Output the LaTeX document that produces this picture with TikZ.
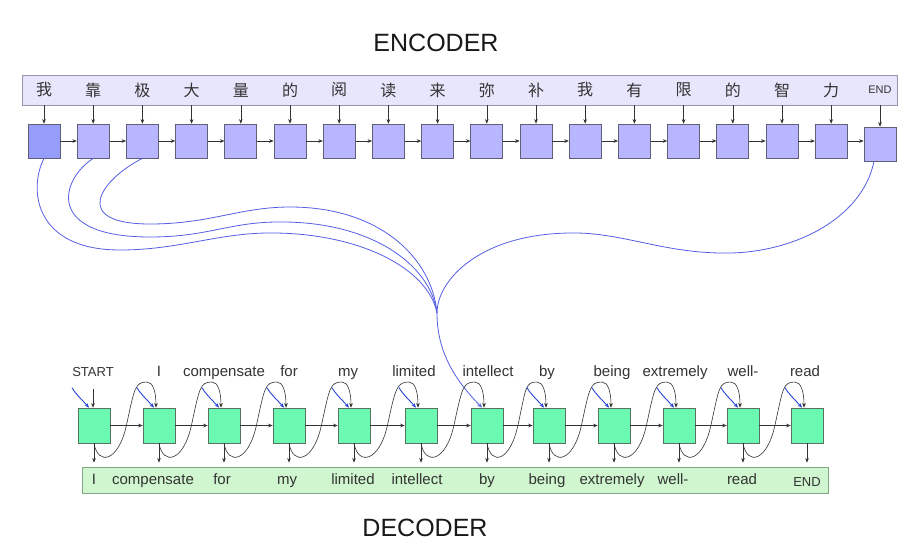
\documentclass[tikz,border=0pt]{standalone}
\usepackage{fontspec}
\setmainfont{Liberation Sans}
\newfontfamily\cjk{Noto Sans CJK SC}
\usetikzlibrary{arrows.meta,shadows,calc}
\definecolor{encbarfill}{RGB}{232,230,252}
\definecolor{encbardraw}{RGB}{150,148,170}
\definecolor{encfill}{RGB}{184,182,255}
\definecolor{encfirst}{RGB}{150,156,250}
\definecolor{encdraw}{RGB}{95,95,120}
\definecolor{decfill}{RGB}{108,250,178}
\definecolor{decdraw}{RGB}{85,115,95}
\definecolor{decbarfill}{RGB}{208,246,208}
\definecolor{decbardraw}{RGB}{130,165,130}
\definecolor{attblue}{RGB}{85,95,228}
\definecolor{shortblue}{RGB}{40,70,220}
\begin{document}
\begin{tikzpicture}[x=1pt,y=-1pt,
  encbar/.style={draw=encbardraw,fill=encbarfill,line width=0.8pt,minimum width=875pt,minimum height=30pt,inner sep=0pt},
  decbar/.style={draw=decbardraw,fill=decbarfill,line width=0.8pt,minimum width=746pt,minimum height=26pt,inner sep=0pt},
  encbox/.style={draw=encdraw,fill=encfill,line width=0.7pt,minimum width=32pt,minimum height=34pt,inner sep=0pt,
     drop shadow={shadow xshift=0.4pt,shadow yshift=-1.3pt,fill=black!55,opacity=0.8}},
  decbox/.style={draw=decdraw,fill=decfill,line width=0.7pt,minimum width=32pt,minimum height=35pt,inner sep=0pt},
  conn/.style={draw=black!80,line width=0.6pt,-{Stealth[length=4.5pt,width=3.6pt]}},
  att/.style={draw=attblue,line width=0.8pt},
  sblue/.style={draw=shortblue,line width=0.9pt,-{Stealth[length=4.5pt,width=3.6pt]}},
  cjklbl/.style={font=\cjk\fontsize{16}{18}\selectfont,text=black!80,inner sep=0pt},
  wordlbl/.style={font=\fontsize{15}{18}\selectfont,text=black!80,inner sep=0pt},
  capslbl/.style={font=\fontsize{13}{16}\selectfont,text=black!80,inner sep=0pt},
  title/.style={font=\fontsize{25}{30}\selectfont,text=black!90,inner sep=0pt}
]
\fill[white] (0,0) rectangle (920,555);
\path[use as bounding box] (0,0) rectangle (920,555);

% titles
\node[title] (enctitle) at (436,43) {ENCODER};
\node[title] (dectitle) at (425,528) {DECODER};

% encoder bar
\node[encbar] (ebar) at (459.5,90) {};

% encoder boxes
\node[encbox,fill=encfirst] (e1) at (44,141) {};
\node[cjklbl] (l1) at (44,90) {我};
\foreach \c [count=\i from 2] in {靠,极,大,量,的,阅,读,来,弥,补,我,有,限,的,智,力}{
  \pgfmathsetmacro\xx{44+49.2*(\i-1)}
  \node[encbox] (e\i) at (\xx,141) {};
  \node[cjklbl] (l\i) at (\xx,90) {\c};
}
\node[encbox] (e18) at (880,144) {};
\node[capslbl,font=\fontsize{11}{13}\selectfont] (l18) at (880,90) {END};
\foreach \i in {1,...,18}{
  \draw[conn] (ebar.south -| e\i.north) -- (e\i.north);
}
\foreach \i in {1,...,17}{
  \pgfmathtruncatemacro\j{\i+1}
  \draw[conn] (e\i.east) -- (e\i.east -| e\j.west);
}

% decoder boxes and labels
\foreach \xx/\w [count=\i] in {94/START,159/I,224/compensate,289/for,354/my,421/limited,487/intellect,549/by,614/being,679/extremely,743/well-,807/read}{
  \node[decbox] (d\i) at (\xx,425.5) {};
}
\node[capslbl] (t1) at (93,372) {START};
\foreach \xx/\w [count=\i from 2] in {159/I,224/compensate,289/for,348/my,414/limited,488/intellect,547/by,612/being,675/extremely,743/well-,805/read}{
  \node[wordlbl] (t\i) at (\xx,373) {\vphantom{lp}\w};
}

% attention curves
\coordinate (conv) at (437,313);
\draw[att] (e1.south) .. controls (28,190) and (35,250) .. (120,250)
   .. controls (180,250) and (220,232) .. (275,233)
   .. controls (360,234) and (428,268) .. (conv);
\draw[att] (e2.south) .. controls (60,180) and (45,237) .. (150,237)
   .. controls (210,237) and (230,221) .. (285,222)
   .. controls (370,223) and (430,263) .. (conv);
\draw[att] (e3.south) .. controls (100,180) and (70,224) .. (150,224)
   .. controls (210,224) and (240,207) .. (290,207)
   .. controls (380,207) and (432,258) .. (conv);
\draw[att,-{Stealth[length=5pt,width=4pt]}] ([xshift=-6pt]e18.south) .. controls (862,220) and (790,255) .. (720,253)
   .. controls (660,252) and (620,232) .. (570,233)
   .. controls (480,234) and (437,280) .. (conv)
   .. controls (437,352) and (455,380) .. ([xshift=-5pt]d7.north);

% decoder bar
\node[decbar] (dbar) at (455,480) {};
\foreach \xx/\w in {94/I,153/compensate,222/for,287/my,353/limited,417/intellect,487/by,547/being,612/extremely,673/well-,742/read}{
  \node[wordlbl] at (\xx,481) {\vphantom{lp}\w};
}
\node[capslbl] (bend) at (807,482) {END};

% horizontal decoder arrows
\foreach \i in {1,...,11}{
  \pgfmathtruncatemacro\j{\i+1}
  \draw[conn] (d\i.east) -- (d\j.west);
}
% output arrows
\foreach \i in {1,...,12}{
  \draw[conn,shorten >=4pt] (d\i.south) -- (d\i.south |- dbar.north);
}
% start input
\coordinate (sin) at (93,389);
\draw[conn] (sin) -- (sin |- d1.north);
% feedback curls
\foreach \xa/\xb/\i/\j in {94/159/1/2,159/224/2/3,224/289/3/4,289/354/4/5,354/421/5/6,421/487/6/7,487/549/7/8,549/614/8/9,614/679/9/10,679/743/10/11,743/807/11/12}{
  \pgfmathsetmacro\xm{(\xa+\xb)/2}
  \draw[conn] (d\i.south) .. controls ({\xa+4},466) and ({\xm-8},462) .. (\xm,425)
     .. controls ({\xm+8},388) and ({\xb-24},382) .. ({\xb-12},382)
     .. controls ({\xb-6},382) and ({\xb-3},392) .. ([xshift=-3pt]d\j.north);
}
% short blue arrows
\foreach \i in {1,2,3,4,5,6,8,9,10,11,12}{
  \coordinate (bs\i) at ($(d\i.north)+(-22,-20)$);
  \draw[sblue] (bs\i) .. controls ($(bs\i)+(4,7)$) and ($(d\i.north)+(-12,-8)$) .. ([xshift=-5pt]d\i.north);
}
\end{tikzpicture}
\end{document}
